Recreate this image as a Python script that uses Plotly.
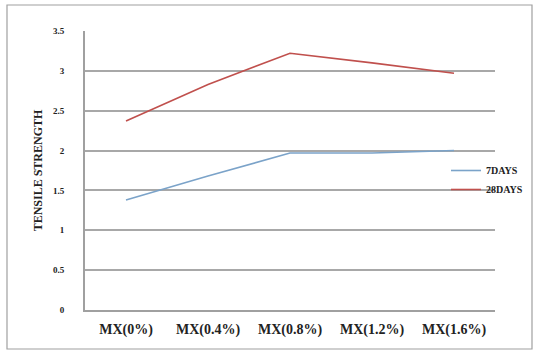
import plotly.graph_objects as go

categories = ["MX(0%)", "MX(0.4%)", "MX(0.8%)", "MX(1.2%)", "MX(1.6%)"]
days7 = [1.38, 1.68, 1.97, 1.97, 2.0]
days28 = [2.37, 2.83, 3.22, 3.1, 2.97]
yticks = [0, 0.5, 1, 1.5, 2, 2.5, 3, 3.5]
ytick_labels = ["0", "0.5", "1", "1.5", "2", "2.5", "3", "3.5"]

fig = go.Figure()
fig.add_trace(go.Scatter(x=categories, y=days7, mode="lines", name="7DAYS",
                         line=dict(color="#7ba3c9", width=1.6)))
fig.add_trace(go.Scatter(x=categories, y=days28, mode="lines", name="28DAYS",
                         line=dict(color="#c0504d", width=1.6)))

W, H = 535, 353
l, r, t, b = 85, 40, 31, 43
pw, ph = W - l - r, H - t - b

def px(xp):
    return (xp - l) / pw

def py(yp):
    return (H - b - yp) / ph

fig.update_layout(
    width=W, height=H,
    margin=dict(l=l, r=r, t=t, b=b, autoexpand=False),
    paper_bgcolor="white", plot_bgcolor="white",
    font=dict(family="Liberation Serif", color="#222222"),
    showlegend=True,
    legend=dict(x=px(446), y=py(180), xanchor="left", yanchor="middle",
                bgcolor="rgba(0,0,0,0)", font=dict(size=10, weight="bold"),
                itemwidth=30, tracegroupgap=0),
    xaxis=dict(type="category", range=[-0.5, 4.5], showgrid=False,
               showline=True, linecolor="#a0a0a0", linewidth=2,
               ticks="", tickfont=dict(size=14, weight="bold"),
               ticklabelstandoff=5, zeroline=False),
    yaxis=dict(range=[0, 3.5], tickvals=yticks, ticktext=ytick_labels,
               showgrid=True, gridcolor="#a8a8a8", gridwidth=1.8,
               showline=True, linecolor="#a0a0a0", linewidth=2,
               ticks="", tickfont=dict(size=9, weight="bold"),
               ticklabelstandoff=17, zeroline=False,
               title=dict(text="TENSILE STRENGTH", font=dict(size=12, weight="bold"),
                          standoff=8)),
    shapes=[dict(type="rect", xref="paper", yref="paper",
                 x0=px(7), x1=px(532), y0=py(349), y1=py(5),
                 line=dict(color="#a0a0a0", width=1.2), fillcolor="rgba(0,0,0,0)",
                 layer="below")],
)

fig.write_html("out.html", post_script="document.body.style.margin='0';",
               config={"displayModeBar": False})
